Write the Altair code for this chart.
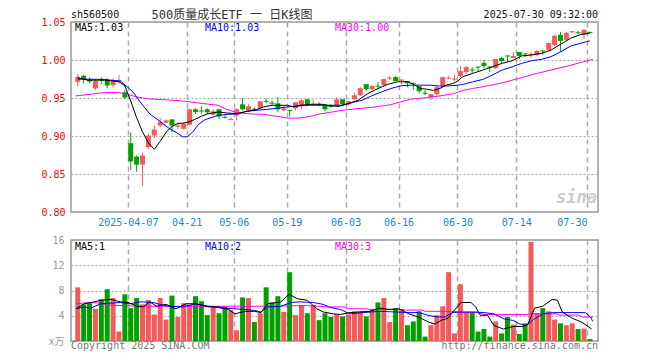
import altair as alt
import pandas as pd

# ---------------- data ----------------
opens = [0.9713,0.9793,0.9744,0.9625,0.9740,0.9735,0.9669,0.9717,0.9576,0.8905,
 0.8728,0.8623,0.8852,0.9007,0.9139,0.9174,0.9218,0.9121,0.9095,0.9148,
 0.9351,0.9335,0.9351,0.9281,0.9351,0.9252,0.9212,0.9272,0.9417,0.9338,
 0.9357,0.9364,0.9462,0.9437,0.9430,0.9338,0.9338,0.9364,0.9391,0.9483,
 0.9412,0.9422,0.9404,0.9396,0.9404,0.9483,0.9417,0.9483,0.9536,0.9682,
 0.9616,0.9661,0.9669,0.9757,0.9775,0.9730,0.9722,0.9700,0.9656,0.9568,
 0.9510,0.9550,0.9656,0.9755,0.9742,0.9788,0.9841,0.9874,0.9912,0.9960,
 0.9912,0.9894,1.0026,1.0058,1.0026,1.0106,1.0084,1.0066,1.0066,1.0124,
 1.0132,1.0199,1.0331,1.0265,1.0365,1.0364,1.0331,1.0366]
highs = [0.9815,0.9806,0.9770,0.9744,0.9770,0.9762,0.9753,0.9801,0.9603,0.9046,
 0.8742,0.8781,0.9030,0.9139,0.9236,0.9220,0.9220,0.9183,0.9179,0.9360,
 0.9364,0.9391,0.9364,0.9351,0.9351,0.9272,0.9245,0.9364,0.9497,0.9417,
 0.9377,0.9457,0.9497,0.9470,0.9510,0.9391,0.9338,0.9444,0.9483,0.9483,
 0.9483,0.9444,0.9404,0.9417,0.9510,0.9483,0.9457,0.9563,0.9642,0.9682,
 0.9669,0.9709,0.9748,0.9788,0.9788,0.9748,0.9722,0.9700,0.9656,0.9603,
 0.9550,0.9656,0.9775,0.9788,0.9802,0.9921,0.9921,0.9907,0.9912,1.0000,
 0.9920,1.0013,1.0040,1.0058,1.0106,1.0106,1.0093,1.0106,1.0132,1.0132,
 1.0225,1.0331,1.0371,1.0371,1.0384,1.0384,1.0397,1.0370]
lows = [0.9656,0.9691,0.9690,0.9603,0.9682,0.9625,0.9638,0.9691,0.9488,0.8552,
 0.8530,0.8344,0.8830,0.8971,0.9113,0.9165,0.9050,0.9095,0.9086,0.9140,
 0.9290,0.9294,0.9285,0.9272,0.9219,0.9232,0.9205,0.9205,0.9338,0.9325,
 0.9325,0.9351,0.9430,0.9404,0.9311,0.9325,0.9258,0.9338,0.9351,0.9391,
 0.9404,0.9391,0.9325,0.9377,0.9391,0.9391,0.9404,0.9470,0.9523,0.9589,
 0.9603,0.9616,0.9656,0.9735,0.9722,0.9682,0.9642,0.9603,0.9563,0.9536,
 0.9470,0.9536,0.9642,0.9748,0.9722,0.9775,0.9815,0.9828,0.9854,0.9894,
 0.9841,0.9881,0.9960,0.9978,1.0026,1.0013,1.0040,1.0031,1.0053,1.0066,
 1.0119,1.0185,1.0106,1.0252,1.0357,1.0344,1.0278,1.0356]
closes = [0.9779,0.9744,0.9717,0.9726,0.9728,0.9664,0.9726,0.9735,0.9506,0.8667,
 0.8623,0.8742,0.9007,0.9086,0.9183,0.9205,0.9139,0.9139,0.9161,0.9351,
 0.9316,0.9323,0.9311,0.9325,0.9258,0.9242,0.9224,0.9351,0.9351,0.9391,
 0.9347,0.9457,0.9452,0.9427,0.9351,0.9364,0.9328,0.9444,0.9470,0.9404,
 0.9424,0.9412,0.9351,0.9386,0.9483,0.9417,0.9457,0.9536,0.9629,0.9616,
 0.9656,0.9650,0.9748,0.9768,0.9722,0.9740,0.9695,0.9688,0.9589,0.9557,
 0.9550,0.9642,0.9775,0.9767,0.9754,0.9854,0.9907,0.9862,0.9901,0.9920,
 0.9900,1.0013,0.9987,1.0048,1.0053,1.0053,1.0074,1.0079,1.0119,1.0114,
 1.0225,1.0318,1.0252,1.0358,1.0378,1.0352,1.0397,1.0360]
volumes = [8.5,5.8,6.0,5.1,6.6,8.2,6.8,1.5,7.4,5.2,
 6.8,5.8,6.5,4.2,6.8,3.4,7.2,3.8,6.0,5.7,
 7.1,6.3,4.1,5.5,4.4,5.5,4.9,1.7,6.9,6.8,
 3.0,4.4,8.5,6.1,7.1,4.6,10.9,4.1,5.7,4.4,
 5.7,3.3,4.4,3.8,4.2,3.9,4.2,4.7,4.7,3.9,
 5.0,6.1,6.8,3.0,5.2,5.0,2.5,3.1,4.7,0.7,
 2.5,4.1,5.5,10.9,1.2,9.0,4.6,4.6,1.5,1.9,
 0.7,3.1,1.2,3.8,2.6,1.1,2.8,15.7,4.4,5.2,
 4.7,3.4,2.8,2.5,2.8,1.9,2.0,0.3]

grid_bars = [10, 20, 28, 37, 47, 56, 66, 76, 88]
date_labels = ["2025-04-07", "04-21", "05-06", "05-19", "06-03", "06-16", "06-30", "07-14", "07-30"]

ma5_x = [1,2.7,5.5,8,9,10,11,12,13,14,15,16,17,18,19,20,21,22,23,24.8,26.4,28,29.7,31.4,32.5,34,36.6,37.7,38.8,
 40.5,42.7,43.8,45.3,47,48.6,50.3,52,53.6,55.3,57,58.1,59.2,60.3,61.4,62.5,63.6,64.7,65.5,66.4,
 68.1,69.8,71.4,73.1,74.8,76.4,78.1,79.8,81.4,83.1,84.75,86.4,88]
ma5_v = [0.9766,0.9735,0.9735,0.9716,0.9660,0.9460,0.9240,0.9055,0.8910,0.8825,0.8930,0.9050,0.9125,0.9165,0.9170,
 0.9190,0.9223,0.9260,0.9290,0.9316,0.9302,0.9294,0.9325,0.9347,0.9382,0.9404,0.9404,0.9382,0.9404,
 0.9417,0.9417,0.9398,0.9390,0.9426,0.9470,0.9558,0.9625,0.9678,0.9713,0.9713,0.9678,0.9625,0.9616,
 0.9600,0.9625,0.9670,0.9690,0.9720,0.9780,0.9823,0.9868,0.9910,0.9956,0.9990,1.0053,1.0066,1.0088,
 1.0130,1.0210,1.0287,1.0335,1.0353]
ma10_x = [1,2.7,5.5,8.25,9.4,10.5,11.6,13.25,15,16.6,17.7,18.8,19.6,20.5,21.5,22.4,23.1,24.8,26.4,28.1,
 29.7,31.4,33.1,34.75,36.4,38.1,39.75,41.4,43.1,45.9,47.6,49.3,50.9,52.6,54.2,55.9,57.5,59.2,60.9,62.6,
 64.2,65.6,66.4,68.1,69.8,71.4,73.1,74.8,76.4,78.1,79.8,81.4,83.1,84.75,86.4,88]
ma10_v = [0.9748,0.9748,0.9744,0.9722,0.9647,0.9570,0.9448,0.9290,0.9190,0.9095,0.9050,0.8990,0.8990,0.9050,
 0.9150,0.9205,0.9227,0.9270,0.9285,0.9290,0.9325,0.9338,0.9350,0.9364,0.9380,0.9395,0.9404,0.9404,
 0.9404,0.9404,0.9440,0.9470,0.9528,0.9580,0.9625,0.9660,0.9669,0.9669,0.9669,0.9656,0.9660,0.9669,
 0.9678,0.9713,0.9744,0.9800,0.9868,0.9910,0.9956,0.9990,1.0009,1.0044,1.0110,1.0185,1.0220,1.0252]
ma30_x = [0.7,3.3,5.5,7.8,9.4,11,12.7,15,17.1,19.4,21,22.4,24.8,26.4,28.1,30.3,32.5,34.9,36.6,38.8,
 40.5,42.1,43.8,45.9,48.6,51.4,54.2,55.8,57.5,59.7,62.6,65,66.4,68.1,70.3,73.1,75.9,78.6,81.4,84.2,87,88.5]
ma30_v = [0.9528,0.9550,0.9572,0.9572,0.9550,0.9514,0.9490,0.9480,0.9470,0.9457,0.9440,0.9426,0.9404,0.9347,
 0.9307,0.9290,0.9285,0.9258,0.9236,0.9236,0.9258,0.9290,0.9310,0.9338,0.9360,0.9380,0.9413,0.9448,
 0.9483,0.9500,0.9528,0.9560,0.9600,0.9625,0.9656,0.9700,0.9757,0.9815,0.9868,0.9920,0.9978,1.0009]

vma5_x = [0.7,2.1,3.8,4.9,6.6,8.25,9.6,11,12.1,13.25,14.4,16,17.7,19.4,21,23.25,24.9,26.6,27.7,29.4,
 31,32.1,33.25,35.5,36.9,38.3,40,41.6,42.7,44.4,45.6,47.25,48.9,50.6,52.3,53.9,55.6,57.25,58.9,60.6,
 61.7,62.8,63.9,65,66.1,67.8,68.6,69.4,70.6,71.7,73.3,75,76.6,77.5,78.6,80,81.6,82.5,83.3,85,86.6,88.3]
vma5_v = [5.1,5.9,6.2,6.45,6.6,6.2,6.1,5.5,5.4,6.2,5.5,5.8,5.1,5.9,5.9,5.4,5.4,5.0,4.3,4.7,
 4.7,4.5,5.9,6.2,7.4,6.7,6.45,5.1,4.6,4.3,4.2,4.5,4.6,4.7,5.2,5.0,5.1,4.3,3.8,3.0,
 2.7,3.3,3.6,4.9,6.1,6.1,5.4,4.05,4.1,2.45,1.9,2.3,2.3,2.7,5.2,5.5,6.6,6.45,4.6,3.6,3.0,1.9]
vma10_x = [0.7,2.1,3.2,4.9,8.25,9.9,11.6,13.8,14.9,16.6,18.8,21,23.25,25.5,27.7,29.4,31,32.1,33.25,35.5,
 37.2,38.8,41,42.7,43.9,45.6,47.25,49.5,52.25,55,57.25,58.9,60.6,62.25,63.4,64.5,66.1,68.4,70,71.7,
 73.4,75,76.1,77.25,78.4,80,81.7,83.4,85,87.25,88.1,88.5]
vma10_v = [5.1,5.4,5.2,5.9,6.1,5.9,6.2,6.1,5.8,5.5,5.4,5.9,5.5,5.2,5.1,5.0,4.85,4.6,5.4,5.5,
 6.1,6.2,6.1,5.8,5.3,5.0,4.3,4.5,4.7,4.6,4.5,4.5,4.05,3.8,3.8,4.5,4.6,4.6,4.5,4.3,
 3.5,3.25,2.7,2.45,3.4,4.3,4.5,4.5,4.5,4.5,3.8,3.1]
vma30_x = [0.7,3,5,6,9,12,30,40,43.9,46.4,46.7,50,50.6,55.6,56.7,59.5,60,65,66.1,68.9,70,77.3,77.8,82.3,82.8,86.1,86.7,88.5]
vma30_v = [5.9,6.1,6.0,5.7,5.6,5.5,5.5,5.6,5.4,5.4,5.1,5.1,5.0,5.0,4.9,4.9,4.7,4.7,4.5,4.5,4.2,4.2,4.3,4.3,4.1,4.1,3.8,3.8]

# ---------------- styling ----------------
RED = "#f55a5a"
GREEN = "#00a000"
FONT = "DejaVu Sans Mono, Noto Sans CJK SC"
GRID = "#aaaaaa"
W, H1, H2 = 527, 190, 101

n = len(opens)
bars = list(range(1, n + 1))
dirs = ["up" if c >= o else "down" for o, c in zip(opens, closes)]
blo, bhi = [], []
for o, c in zip(opens, closes):
    lo_, hi_ = min(o, c), max(o, c)
    if hi_ - lo_ < 0.0013:
        m = (lo_ + hi_) / 2
        lo_, hi_ = m - 0.00066, m + 0.00066
    blo.append(lo_)
    bhi.append(hi_)

candles = pd.DataFrame({"bar": bars, "open": opens, "high": highs, "low": lows,
                        "close": closes, "blo": blo, "bhi": bhi, "dir": dirs})
vol = pd.DataFrame({"bar": bars, "vol": volumes, "dir": dirs})

grid_pos = [b - 0.5 for b in grid_bars]
label_expr = ("[" + ",".join("'%s'" % s for s in date_labels) + "][indexof(["
              + ",".join(str(g) for g in grid_pos) + "], datum.value)]")

xscale = alt.Scale(domain=[0.7, 88.53], nice=False, zero=False)
yscale = alt.Scale(domain=[0.80, 1.05], nice=False, zero=False)
vscale = alt.Scale(domain=[0, 16], nice=False, zero=False)
color = alt.Color("dir:N", scale=alt.Scale(domain=["up", "down"], range=[RED, GREEN]), legend=None)

x_top_axis = alt.Axis(values=grid_pos, labelExpr=label_expr, grid=True, gridDash=[5, 4],
                      gridColor=GRID, gridWidth=1.5, ticks=False, domain=False,
                      labelColor="#1587d8", labelFont=FONT, labelFontSize=10, labelPadding=5,
                      labelAlign={"expr": "datum.value > 80 ? 'right' : 'center'"},
                      labelFlush=False, labelOverlap=False, minExtent=15, maxExtent=15, title=None)
y_top_axis = alt.Axis(values=[0.80, 0.85, 0.90, 0.95, 1.00, 1.05], format=".2f", grid=True,
                      gridDash=[2, 2], gridColor=GRID, ticks=False, domain=False,
                      labelColor="#ff0000", labelFont=FONT, labelFontSize=10, labelPadding=6,
                      labelFlush=False, labelOverlap=False, minExtent=30, maxExtent=30, title=None)
x_bot_axis = alt.Axis(values=grid_pos, labels=False, grid=True, gridDash=[5, 4], gridColor=GRID,
                      gridWidth=1.5, ticks=False, domain=False, title=None)
y_bot_axis = alt.Axis(values=[0, 4, 8, 12, 16], labelExpr="datum.value == 0 ? 'x万' : datum.label",
                      grid=True, gridDash=[2, 2], gridColor=GRID, ticks=False, domain=False,
                      labelColor="#999999", labelFont=FONT, labelFontSize=10, labelPadding=7,
                      labelFlush=False, labelOverlap=False, minExtent=30, maxExtent=30, title=None)


def X(field, ax):
    return alt.X(field, scale=xscale, axis=ax)


def line(xs, vs, col, sc, xax, yax):
    df = pd.DataFrame({"x": xs, "v": vs})
    return alt.Chart(df).mark_line(color=col, strokeWidth=1, clip=True).encode(
        x=X("x:Q", xax),
        y=alt.Y("v:Q", scale=sc, axis=yax))


def txt(s, x, y, col, size=10, align="left", baseline="middle", **kw):
    return alt.Chart(pd.DataFrame({"t": [s]})).mark_text(
        align=align, baseline=baseline, color=col, font=FONT, fontSize=size, **kw
    ).encode(text="t:N", x=alt.value(x), y=alt.value(y))


base = alt.Chart(candles)
wick = base.mark_rule(strokeWidth=1).encode(
    x=X("bar:Q", x_top_axis),
    y=alt.Y("low:Q", scale=yscale, axis=y_top_axis),
    y2="high:Q", color=color)
body = base.mark_bar(size=5).encode(
    x=X("bar:Q", x_top_axis),
    y=alt.Y("blo:Q", scale=yscale, axis=y_top_axis),
    y2="bhi:Q", color=color)

top = alt.layer(
    wick, body,
    line(ma30_x, ma30_v, "#ff00ff", yscale, x_top_axis, y_top_axis),
    line(ma10_x, ma10_v, "#0000ff", yscale, x_top_axis, y_top_axis),
    line(ma5_x, ma5_v, "#000000", yscale, x_top_axis, y_top_axis),
    txt("MA5:1.03", 4, 6, "#000000"),
    txt("MA10:1.03", 134, 6, "#0000ff"),
    txt("MA30:1.00", 264, 6, "#ff00ff"),
    txt("sh560500", 0, -7, "#111111"),
    txt("500质量成长ETF 一 日K线图", 161, -7, "#333333", size=12, align="center"),
    txt("2025-07-30 09:32:00", 527, -7, "#111111", align="right"),
    txt("sina", 526, 176, "#cccccc", size=17, align="right", fontStyle="italic", fontWeight="bold"),
).properties(width=W, height=H1)

volbars = alt.Chart(vol).mark_bar(size=5).encode(
    x=X("bar:Q", x_bot_axis),
    y=alt.Y("vol:Q", scale=vscale, axis=y_bot_axis),
    color=color)

bottom = alt.layer(
    volbars,
    line(vma30_x, vma30_v, "#ff00ff", vscale, x_bot_axis, y_bot_axis),
    line(vma10_x, vma10_v, "#0000ff", vscale, x_bot_axis, y_bot_axis),
    line(vma5_x, vma5_v, "#000000", vscale, x_bot_axis, y_bot_axis),
    txt("MA5:1", 4, 7, "#000000"),
    txt("MA10:2", 134, 7, "#0000ff"),
    txt("MA30:3", 264, 7, "#ff00ff"),
    txt("Copyright 2025 SINA.COM", 0, H2 + 5, "#777777"),
    txt("http://finance.sina.com.cn", 527, H2 + 5, "#777777", align="right"),
).properties(width=W, height=H2)

chart = alt.vconcat(top, bottom, spacing=6).properties(
    padding={"left": 32, "top": 0, "right": 5, "bottom": 0}
).configure(font=FONT).configure_view(stroke="#999999", strokeWidth=1.5)

chart.save("out.html", embed_options={"renderer": "svg", "actions": False})
